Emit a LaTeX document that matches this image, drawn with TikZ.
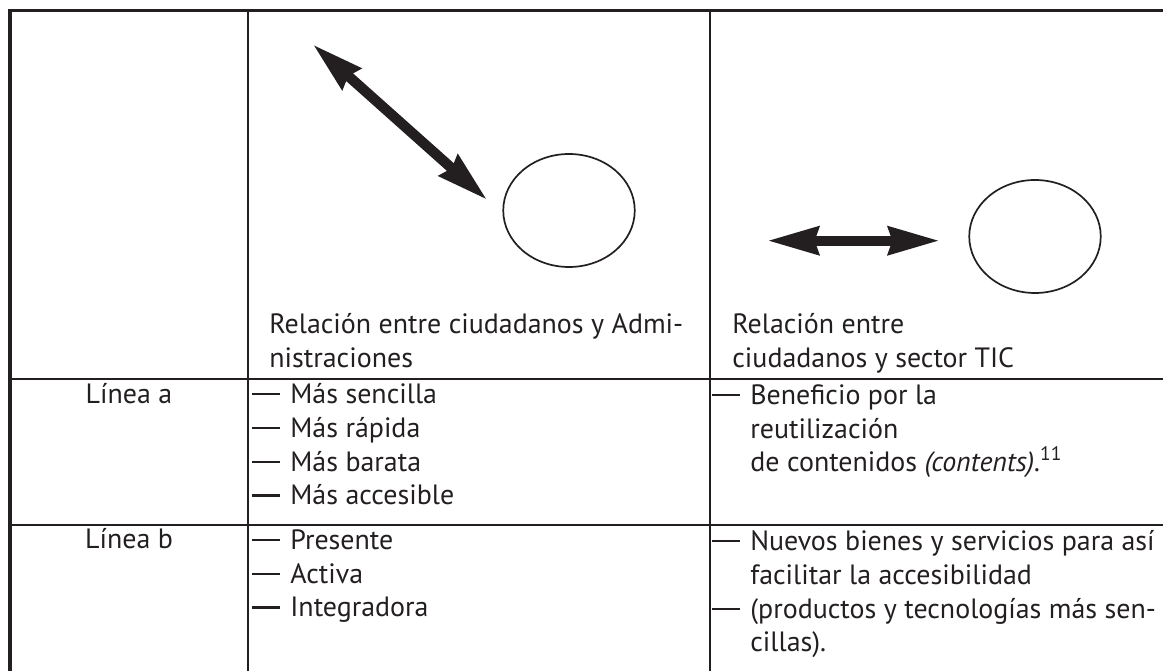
\documentclass[tikz,border=0pt]{standalone}
\usepackage{fontspec}
\setmainfont{PT Sans}
\usepackage{tikz}
\usetikzlibrary{arrows.meta, positioning, shapes.geometric}

\definecolor{ink}{HTML}{231F20}
\newcommand{\guion}{\rule[0.165cm]{0.56cm}{0.045cm}\hspace{0.2cm}}
\newcommand{\sangria}{\hspace{0.76cm}}

\begin{document}
\begin{tikzpicture}[
    % --- Styles ---
    frame rule/.style={draw=ink, line width=0.07cm, line join=miter},
    cell rule/.style={draw=ink, line width=0.045cm},
    cell text/.style={font=\fontsize{15.9}{19.3}\selectfont, text=ink, align=left, inner sep=0pt, anchor=base west},
    row label/.style={cell text, align=center, anchor=base},
    two way/.style={<->, >={Stealth[length=1.02cm, width=0.54cm, inset=0.07cm]}, draw=ink, line width=0.206cm},
    ring/.style={ellipse, draw=ink, line width=0.034cm, minimum width=2.63cm, minimum height=2.26cm, inner sep=0pt}
]
    \useasboundingbox (0,0) rectangle (23.26,13.42);

    %% --- TABLE RULES ---
    \draw[frame rule] (23.4,13.206) -- (0.2,13.206) -- (0.2,-0.1);
    \draw[cell rule] (4.96,13.206) -- (4.96,-0.1);
    \draw[cell rule] (14.20,13.206) -- (14.20,-0.1);
    \draw[cell rule] (0.2,5.84) -- (23.4,5.84);
    \draw[cell rule] (0.2,2.92) -- (23.4,2.92);

    %% --- HEADER ROW ---
    % Citizens <-> Administrations
    \coordinate (adminTop) at (6.254,12.534);
    \coordinate (adminLow) at (9.746,9.42);
    \draw[two way] (adminTop) -- (adminLow);
    \node[ring] (circAdmin) at (11.38,9.21) {};

    % Citizens <-> ICT sector
    \coordinate (ticLeft) at (15.34,8.606);
    \coordinate (ticRight) at (18.80,8.606);
    \draw[two way] (ticLeft) -- (ticRight);
    \node[ring] (circTIC) at (20.70,8.69) {};

    % base anchor = baseline of the last line
    \node[cell text] (hdAdmin) at (5.38,6.07) {Relación entre ciudadanos y Admi-\\nistraciones};
    \node[cell text] (hdTIC) at (14.64,6.07) {Relación entre\\ciudadanos y sector TIC};

    %% --- ROW A ---
    \node[row label] (lineaA) at (2.58,5.34) {Línea a};
    \node[cell text] (adminA) at (5.04,3.32) {\guion Más sencilla\\\guion Más rápida\\\guion Más barata\\\guion Más accesible};
    \node[cell text] (ticA) at (14.24,3.98) {\guion Beneficio por la\\\sangria reutilización\\\sangria de contenidos \textit{(contents).}\textsuperscript{11}};

    %% --- ROW B ---
    \node[row label] (lineaB) at (2.58,2.44) {Línea b};
    \node[cell text] (adminB) at (5.04,1.08) {\guion Presente\\\guion Activa\\\guion Integradora};
    \node[cell text] (ticB) at (14.24,0.38) {\guion Nuevos bienes y servicios para así\\\sangria facilitar la accesibilidad\\\guion (productos y tecnologías más sen-\\\sangria cillas).};
\end{tikzpicture}
\end{document}
